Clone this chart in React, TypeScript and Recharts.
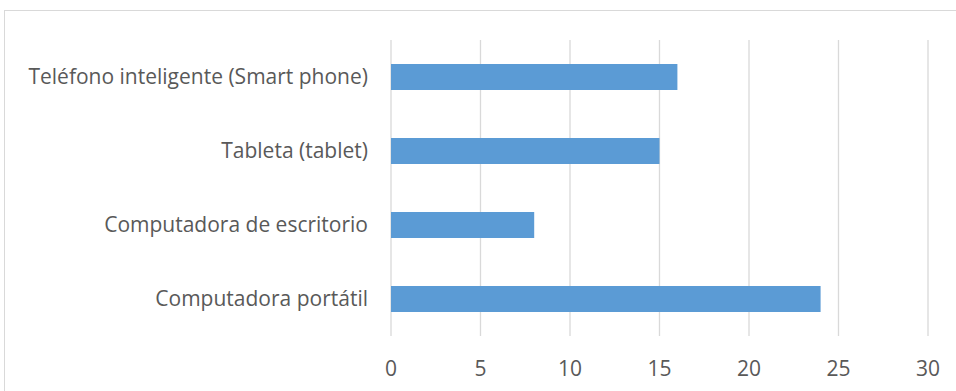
import React from "react";
import { BarChart, Bar, XAxis, YAxis, CartesianGrid } from "recharts";

const categories = [
  "Teléfono inteligente (Smart phone)",
  "Tableta (tablet)",
  "Computadora de escritorio",
  "Computadora portátil",
];
const values = [16, 15, 8, 24];
const xTicks = [0, 5, 10, 15, 20, 25, 30];

const data = categories.map((name, i) => ({ name, value: values[i] }));

const FONT = "'Open Sans', sans-serif";

export default function App() {
  return (
    <div
      style={{
        position: "absolute",
        left: 0,
        top: 0,
        width: 956,
        height: 391,
        overflow: "hidden",
        background: "#ffffff",
      }}
    >
      <div
        style={{
          position: "absolute",
          left: 4,
          top: 10,
          width: 1000,
          height: 1000,
          border: "1px solid #d9d9d9",
          boxSizing: "border-box",
        }}
      />
      <div style={{ position: "absolute", left: 0, top: 0 }}>
        <BarChart
          width={956}
          height={391}
          data={data}
          layout="vertical"
          margin={{ top: 40, right: 28, bottom: 0, left: 0 }}
        >
          <CartesianGrid horizontal={false} vertical={true} stroke="#d9d9d9" strokeWidth={1.3} />
          <XAxis
            type="number"
            domain={[0, 30]}
            ticks={xTicks}
            interval={0}
            axisLine={false}
            tickLine={false}
            tickSize={0}
            tickMargin={25}
            height={55}
            tick={{ fill: "#595959", fontSize: 21, fontFamily: FONT }}
          />
          <YAxis
            type="category"
            dataKey="name"
            width={391}
            axisLine={false}
            tickLine={false}
            tickSize={0}
            tickMargin={23}
            interval={0}
            tick={{ fill: "#595959", fontSize: 21, fontFamily: FONT }}
          />
          <Bar dataKey="value" fill="#5b9bd5" barSize={26} isAnimationActive={false} />
        </BarChart>
      </div>
    </div>
  );
}
